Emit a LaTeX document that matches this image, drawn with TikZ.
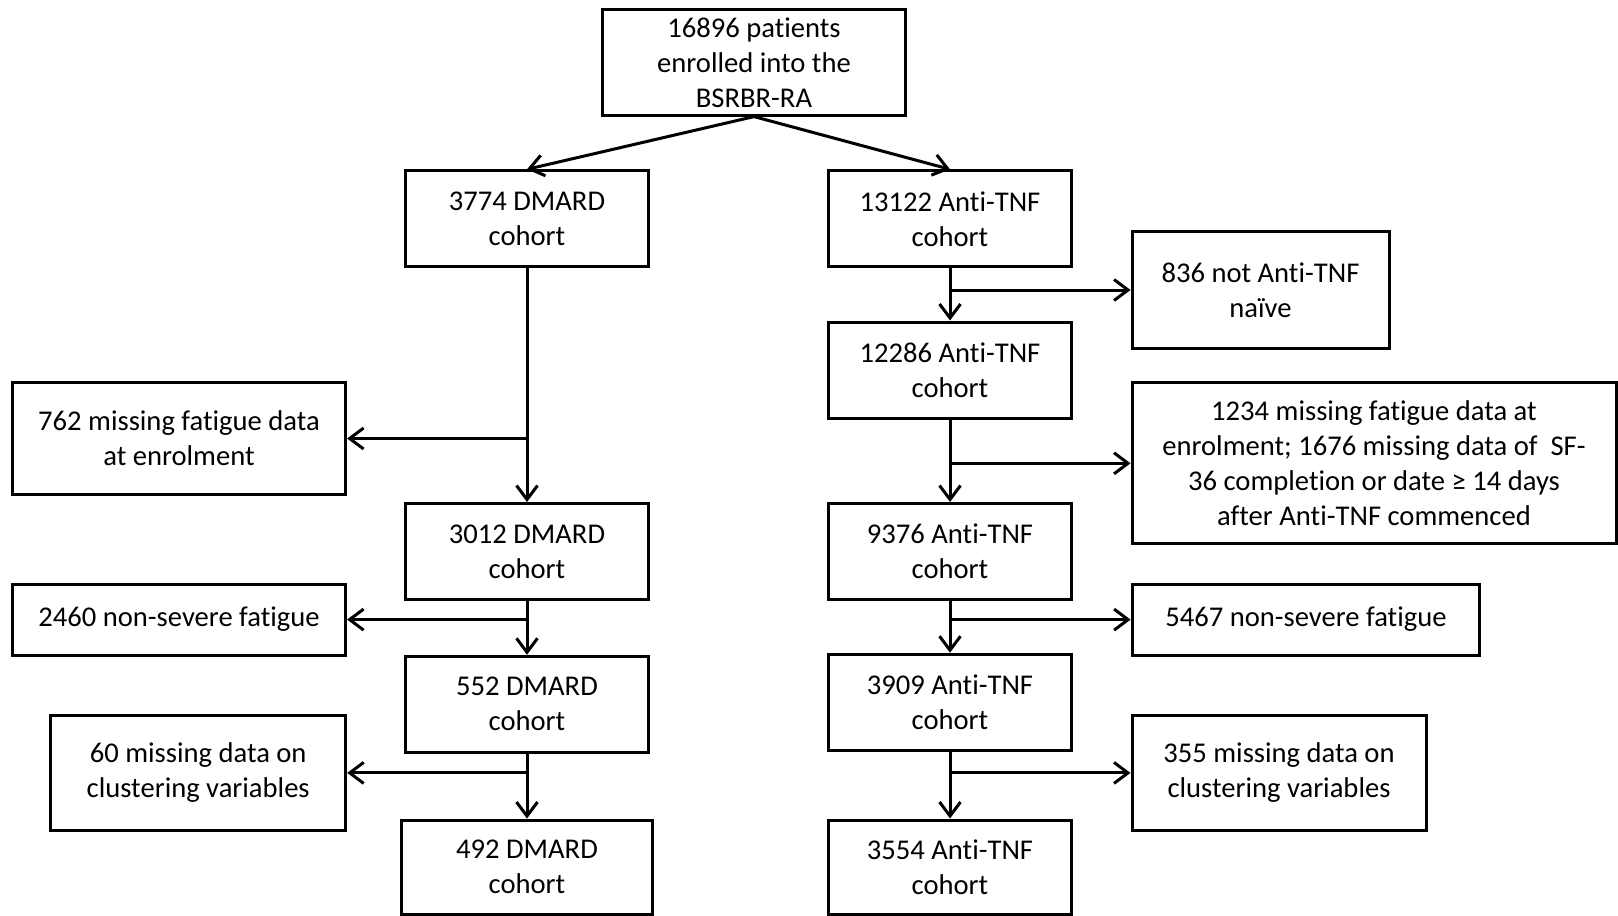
\documentclass[tikz,border=0pt]{standalone}
\usepackage{fontspec}
\setmainfont{Carlito}[Ligatures=NoCommon]
\usetikzlibrary{arrows.meta, positioning}

\begin{document}
\begin{tikzpicture}[x=0.5pt, y=-0.5pt, line width=1.5pt,
        >={Straight Barb[length=7pt, width=10.5pt]},
        every node/.style={font=\fontsize{14.3}{17.5}\selectfont, align=center, inner sep=0pt},
        box/.style={draw, minimum width=121.25pt, minimum height=48pt},
        sidebox/.style={draw}]
        \useasboundingbox (0,0) rectangle (1618,916);

        % Nodes
        \node[draw, minimum width=151.7pt, minimum height=52.6pt] (top) at (754, 62.5) {16896 patients\\enrolled into the\\BSRBR-RA};

        \node[box] (d1) at (527, 218.8) {3774 DMARD\\cohort};
        \node[box] (d2) at (527, 551.5) {3012 DMARD\\cohort};
        \node[box] (d3) at (527, 704.3) {552 DMARD\\cohort};
        \node[box, minimum width=125.4pt, minimum height=47pt] (d4) at (527, 867) {492 DMARD\\cohort};

        \node[box] (a1) at (950, 218.8) {13122 Anti-TNF\\cohort};
        \node[box] (a2) at (950, 370) {12286 Anti-TNF\\cohort};
        \node[box] (a3) at (950, 551.5) {9376 Anti-TNF\\cohort};
        \node[box] (a4) at (950, 702.2) {3909 Anti-TNF\\cohort};
        \node[box, minimum height=47pt] (a5) at (950, 867) {3554 Anti-TNF\\cohort};

        \node[sidebox, minimum width=166.6pt, minimum height=55.7pt] (miss1) at (179, 438.5) {762 missing fatigue data\\at enrolment};
        \node[sidebox, minimum width=166.6pt, minimum height=35.6pt] (sev1) at (179, 619.6) {2460 non-severe fatigue};
        \node[sidebox, minimum width=147.5pt, minimum height=57.8pt] (clus1) at (198.2, 772.9) {60 missing data on\\clustering variables};

        \node[sidebox, minimum width=128.5pt, minimum height=58.8pt] (naive) at (1260.5, 290) {836 not Anti-TNF\\naïve};
        \node[sidebox, minimum width=242pt, minimum height=80.5pt] (miss2) at (1374, 463.3) {1234 missing fatigue data at\\enrolment; 1676 missing data of\ \ SF-\\36 completion or date ≥ 14 days\\after Anti-TNF commenced};
        \node[sidebox, minimum width=173.8pt, minimum height=35.6pt] (sev2) at (1305.9, 619.6) {5467 non-severe fatigue};
        \node[sidebox, minimum width=147pt, minimum height=57.8pt] (clus2) at (1279, 772.9) {355 missing data on\\clustering variables};

        % Directed edges
        \draw[->] (top.south) -- (d1.north);
        \draw[->] (top.south) -- (a1.north);

        \draw[->] (d1) -- (d2);
        \draw[->] (d2) -- (d3);
        \draw[->] (d3) -- (d4);
        \draw[->] (a1) -- (a2);
        \draw[->] (a2) -- (a3);
        \draw[->] (a3) -- (a4);
        \draw[->] (a4) -- (a5);

        % Exclusions
        \draw[->] (d1 |- miss1) -- (miss1);
        \draw[->] (d2 |- sev1) -- (sev1);
        \draw[->] (d3 |- clus1) -- (clus1);
        \draw[->] (a1 |- naive) -- (naive);
        \draw[->] (a2 |- miss2) -- (miss2);
        \draw[->] (a3 |- sev2) -- (sev2);
        \draw[->] (a4 |- clus2) -- (clus2);
    \end{tikzpicture}
\end{document}
